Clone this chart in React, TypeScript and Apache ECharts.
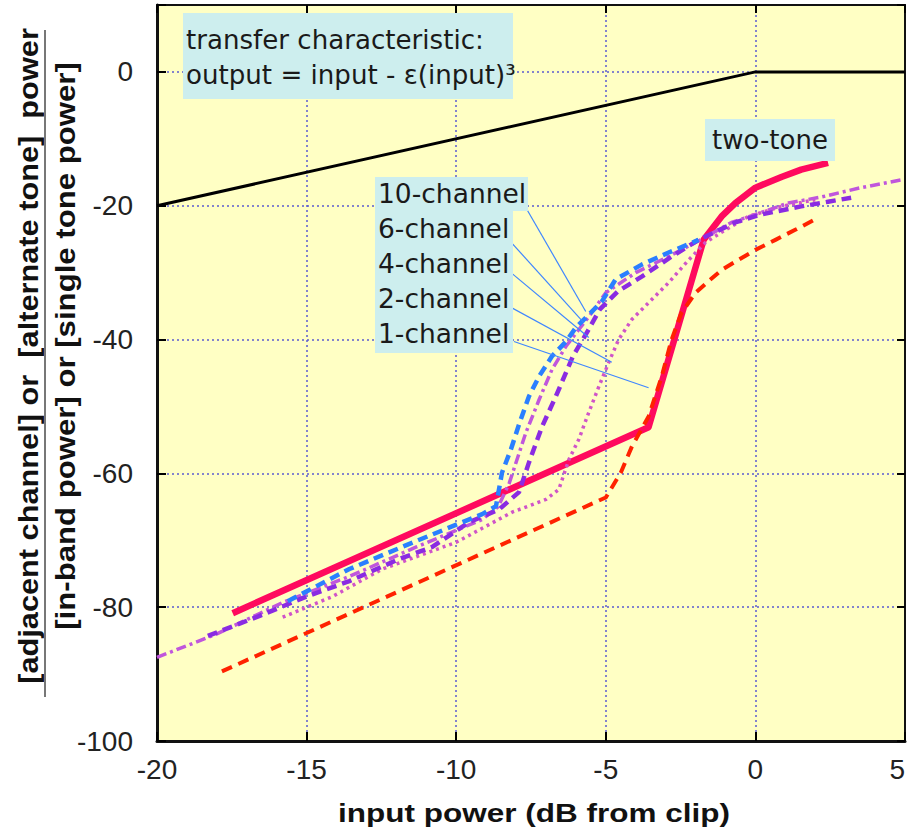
import React, { useEffect, useRef } from "react";
import * as echarts from "echarts";

// ---- axis setup ----
const xMin = -20;
const xMax = 5;
const xStep = 5;
const yMin = -100;
const yMax = 10;
const yStep = 20;

// ---- transfer characteristic (black) ----
const transferX = [-20, 0, 5];
const transferY = [-20, 0, 0];

// ---- two-tone (thick crimson) ----
const twoToneX = [-17.47, -3.57, -1.73, -1.13, -0.67, 0, 0.87, 1.53, 2.43];
const twoToneY = [-80.9, -53.1, -25.1, -21.6, -19.6, -17.3, -15.7, -14.6, -13.6];

// ---- 1-channel (red dashed) ----
const ch1X = [-17.83, -5.0, -4.5, -4.13, -3.57, -3.13, -2.8, -2.47, -2.0, -1.57, -1.13, -0.57, 0, 0.67, 1.33, 2.1];
const ch1Y = [-89.6, -63.6, -59.9, -56.0, -51.5, -45.5, -40.0, -36.0, -33.0, -31.3, -29.6, -28.1, -26.6, -25.1, -23.6, -21.8];

// ---- 2-channel (pink dotted) ----
const ch2X = [-15.8, -14.13, -12.47, -10.0, -8.13, -7.0, -6.57, -6.23, -5.9, -5.57, -5.23, -4.9, -4.57, -4.13, -3.57, -2.9, -2.23, -1.67, -1.0, -0.23, 0.87, 2.0];
const ch2Y = [-81.5, -78.4, -74.3, -70.3, -65.8, -63.9, -62.4, -57.9, -54.9, -50.9, -47.0, -43.4, -40.0, -37.0, -34.5, -31.5, -28.1, -25.5, -23.6, -21.6, -20.1, -19.1];

// ---- 4-channel (purple dashed) ----
const ch4X = [-18.3, -16.57, -15.0, -13.57, -11.9, -10.8, -9.57, -8.57, -7.9, -7.57, -7.13, -6.67, -6.1, -5.6, -5.2, -4.6, -3.8, -2.8, -1.9, -0.67, 0.2, 1.53, 2.43, 3.2];
const ch4Y = [-84.3, -81.3, -78.4, -76.1, -72.8, -71.0, -67.3, -65.4, -62.8, -58.4, -53.0, -48.5, -42.5, -38.7, -35.5, -32.8, -30.6, -27.6, -25.1, -22.5, -21.3, -20.1, -19.4, -18.8];

// ---- 6-channel (magenta dash-dot) ----
const ch6X = [-20, -18.0, -15.8, -13.57, -11.33, -9.13, -8.6, -8.23, -7.67, -7.23, -6.8, -6.33, -5.9, -5.57, -5.0, -4.0, -3.0, -2.0, -0.8, 0.2, 1.1, 2.2, 3.53, 4.93];
const ch6Y = [-87.5, -84.0, -79.3, -75.4, -71.0, -66.9, -65.0, -61.5, -53.9, -49.0, -44.5, -41.0, -38.5, -36.6, -33.0, -30.0, -27.8, -25.5, -22.5, -21.0, -19.6, -18.7, -17.3, -16.1];

// ---- 10-channel (blue dashed) ----
const ch10X = [-15.63, -13.57, -11.33, -9.13, -8.67, -8.47, -8.17, -7.9, -7.57, -7.23, -6.8, -6.33, -6.0, -5.57, -5.13, -4.67, -3.8, -2.9, -1.9];
const ch10Y = [-79.1, -74.3, -70.1, -66.1, -64.9, -59.9, -56.4, -52.7, -48.5, -45.5, -42.5, -40.3, -38.2, -36.3, -34.3, -31.0, -28.8, -27.0, -25.1];

// ---- labels and their leader lines (label corner -> curve point) ----
const channelLabels = ["10-channel", "6-channel", "4-channel", "2-channel", "1-channel"];
const leaderStartX = [-7.67, -8.4, -8.17, -8.33, -8.07];
const leaderStartY = [-20.3, -24.3, -30.0, -34.8, -40.3];
const leaderEndX = [-5.67, -5.73, -5.57, -4.8, -3.57];
const leaderEndY = [-35.8, -37.5, -39.7, -43.4, -47.2];

const transferText = ["transfer characteristic:", "output = input - \u03b5(input)\u00b3"];
const twoToneLabel = "two-tone";
const xTitle = "input power (dB from clip)";
const yTitleTop = "[adjacent channel] or  [alternate tone]  power";
const yTitleBottom = "[in-band power] or [single tone power]";

const zip = (xs: number[], ys: number[]) => xs.map((x, i) => [x, ys[i]]);

const LABEL_FONT = "DejaVu Sans";

function fitScale(text: string, font: string, target: number): number {
  try {
    const ctx = document.createElement("canvas").getContext("2d");
    if (!ctx) return 1;
    ctx.font = font;
    const w = ctx.measureText(text).width;
    return w > 0 ? target / w : 1;
  } catch (e) {
    return 1;
  }
}

function buildOption(): any {
  const gridLine = { color: "#5b5bd0", type: [2, 3], width: 1.5 };
  const mkLine = (name: string, xs: number[], ys: number[], color: string, width: number, type: any, z = 2) => ({
    name,
    type: "line",
    data: zip(xs, ys),
    symbol: "none",
    showSymbol: false,
    silent: true,
    z,
    lineStyle: { color, width, type, cap: "butt", join: "round" },
  });

  const series: any[] = [
    mkLine("transfer", transferX, transferY, "#000000", 3, "solid", 3),
    mkLine("two-tone", twoToneX, twoToneY, "#ff0a5e", 6.5, "solid", 2),
    mkLine("1-channel", ch1X, ch1Y, "#ff2200", 4, [11, 7], 3),
    mkLine("2-channel", ch2X, ch2Y, "#d054c8", 3.5, [3, 4], 3),
    mkLine("6-channel", ch6X, ch6Y, "#c056dc", 3.5, [10, 4, 3, 4], 3),
    mkLine("4-channel", ch4X, ch4Y, "#8a2be2", 4.5, [10, 6], 3),
    mkLine("10-channel", ch10X, ch10Y, "#2a7fff", 4.5, [10, 6], 4),
  ];
  channelLabels.forEach((lab, i) => {
    series.push({
      name: "leader " + lab,
      type: "line",
      data: [
        [leaderStartX[i], leaderStartY[i]],
        [leaderEndX[i], leaderEndY[i]],
      ],
      symbol: "none",
      silent: true,
      z: 5,
      lineStyle: { color: "#3f86ff", width: 1.2 },
    });
  });

  const graphic: any[] = [];
  // transfer characteristic box
  graphic.push({ type: "rect", shape: { x: 183, y: 13, width: 330, height: 86 }, style: { fill: "#cdeeee" }, z: 10 });
  const tFont = 26;
  const tScale = fitScale(transferText[0], `${tFont}px "${LABEL_FONT}"`, 298);
  transferText.forEach((t, i) => {
    graphic.push({
      type: "text",
      x: 186,
      y: 40 + i * 35,
      scaleX: tScale,
      z: 11,
      style: { text: t, fontFamily: LABEL_FONT, fontSize: tFont, fill: "#1a1a1a", verticalAlign: "middle" },
    });
  });
  // channel label boxes
  graphic.push({ type: "rect", shape: { x: 375, y: 177, width: 153, height: 34 }, style: { fill: "#cdeeee" }, z: 10 });
  graphic.push({ type: "rect", shape: { x: 375, y: 210, width: 138, height: 143 }, style: { fill: "#cdeeee" }, z: 10 });
  channelLabels.forEach((t, i) => {
    graphic.push({
      type: "text",
      x: 378,
      y: 193 + i * 35,
      z: 11,
      style: { text: t, fontFamily: LABEL_FONT, fontSize: 26.5, fill: "#1a1a1a", verticalAlign: "middle" },
    });
  });
  // two-tone label
  graphic.push({ type: "rect", shape: { x: 705, y: 119, width: 130, height: 42 }, style: { fill: "#cdeeee" }, z: 10 });
  graphic.push({
    type: "text",
    x: 770,
    y: 140,
    z: 11,
    style: { text: twoToneLabel, fontFamily: LABEL_FONT, fontSize: 26, fill: "#1a1a1a", align: "center", verticalAlign: "middle" },
  });
  // x title
  const xtFont = 25;
  const xtScale = fitScale(xTitle, `bold ${xtFont}px "Liberation Sans"`, 392);
  graphic.push({
    type: "text",
    x: 534,
    y: 813,
    scaleX: xtScale,
    style: { text: xTitle, fontFamily: "Liberation Sans", fontWeight: "bold", fontSize: xtFont, fill: "#111", align: "center", verticalAlign: "middle" },
  });
  // y title as a fraction
  const ytFont = 28;
  const ytFontStr = `bold ${ytFont}px "Liberation Sans"`;
  graphic.push({
    type: "text",
    x: 28,
    y: 356,
    rotation: Math.PI / 2,
    scaleX: fitScale(yTitleTop, ytFontStr, 656),
    style: { text: yTitleTop, fontFamily: "Liberation Sans", fontWeight: "bold", fontSize: ytFont, fill: "#111", align: "center", verticalAlign: "middle" },
  });
  graphic.push({
    type: "line",
    shape: { x1: 45, y1: 30, x2: 45, y2: 697 },
    style: { stroke: "#777", lineWidth: 2 },
  });
  graphic.push({
    type: "text",
    x: 65,
    y: 346,
    rotation: Math.PI / 2,
    scaleX: fitScale(yTitleBottom, ytFontStr, 568),
    style: { text: yTitleBottom, fontFamily: "Liberation Sans", fontWeight: "bold", fontSize: ytFont, fill: "#111", align: "center", verticalAlign: "middle" },
  });

  const tickLabel = { fontFamily: "Liberation Sans", fontSize: 28, color: "#222" };

  return {
    animation: false,
    backgroundColor: "#ffffff",
    grid: {
      left: 157,
      right: 5,
      top: 5,
      bottom: 89,
      containLabel: false,
      outerBoundsMode: "none",
      show: true,
      backgroundColor: "#ffffc4",
      borderColor: "#111",
      borderWidth: 2,
    },
    xAxis: [
      {
        type: "value",
        position: "bottom",
        min: xMin,
        max: xMax,
        interval: xStep,
        axisLine: { show: true, onZero: false, lineStyle: { color: "#111", width: 3 } },
        axisTick: { show: true, inside: true, length: 9, lineStyle: { color: "#000", width: 2 } },
        axisLabel: { ...tickLabel, margin: 14, alignMaxLabel: "right" },
        splitLine: { show: true, lineStyle: gridLine },
      },
      {
        type: "value",
        position: "top",
        min: xMin,
        max: xMax,
        interval: xStep,
        axisLine: { show: true, onZero: false, lineStyle: { color: "#111", width: 2 } },
        axisTick: { show: true, inside: true, length: 8, lineStyle: { color: "#000", width: 2 } },
        axisLabel: { show: false },
        splitLine: { show: false },
      },
    ],
    yAxis: [
      {
        type: "value",
        position: "left",
        min: yMin,
        max: yMax,
        interval: yStep,
        axisLine: { show: true, onZero: false, lineStyle: { color: "#111", width: 3 } },
        axisTick: { show: true, inside: true, length: 9, lineStyle: { color: "#000", width: 2 } },
        axisLabel: { ...tickLabel, margin: 24, formatter: (v: number) => (v > 0 ? "" : String(v)) },
        splitLine: { show: true, lineStyle: gridLine },
      },
      {
        type: "value",
        position: "right",
        min: yMin,
        max: yMax,
        interval: yStep,
        axisLine: { show: true, onZero: false, lineStyle: { color: "#111", width: 2 } },
        axisTick: { show: true, inside: true, length: 8, lineStyle: { color: "#000", width: 2 } },
        axisLabel: { show: false },
        splitLine: { show: false },
      },
    ],
    series,
    graphic,
  };
}

export default function App() {
  const ref = useRef<HTMLDivElement>(null);
  useEffect(() => {
    document.body.style.margin = "0";
    document.body.style.overflow = "hidden";
    document.documentElement.style.overflow = "hidden";
    const chart = echarts.init(ref.current as HTMLDivElement, null, { renderer: "svg", width: 910, height: 830 });
    chart.setOption(buildOption());
    return () => chart.dispose();
  }, []);
  return (
    <div
      ref={ref}
      style={{ position: "absolute", left: 0, top: 0, width: 910, height: 830, overflow: "hidden" }}
    />
  );
}
